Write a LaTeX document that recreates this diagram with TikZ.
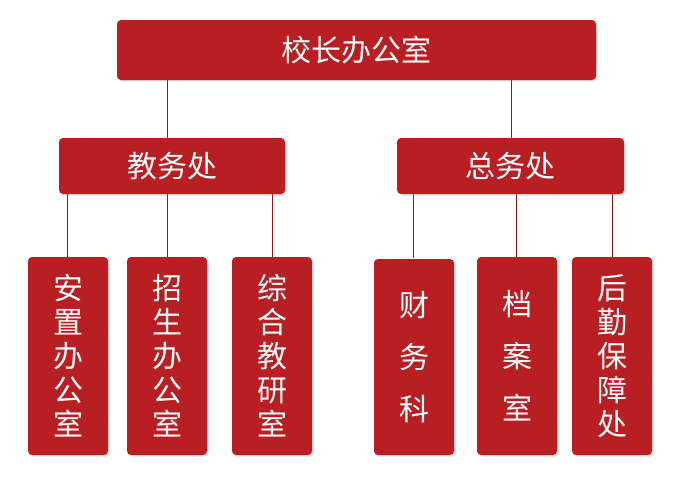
\documentclass[tikz,border=0pt]{standalone}
\usepackage{fontspec}
\setmainfont{Noto Sans CJK SC}
\usetikzlibrary{shadows}
\definecolor{boxred}{RGB}{185,30,34}
\tikzset{
  unit/.style={fill=boxred, rounded corners=4pt, text=white, drop shadow={opacity=0.25,shadow xshift=1.5pt,shadow yshift=-1.5pt}},
  link/.style={boxred!80!black, line width=0.6pt}
}
\newcommand{\orgbox}[6]{% name, x1, y1, x2, y2, text
  \path[unit] (#2,#3) rectangle (#4,#5);
  \node[text=white, align=center, inner sep=0pt, font=\fontsize{30}{34}\selectfont] (#1) at ({(#2+#4)/2},{(#3+#5)/2}) {#6};
  \coordinate (#1-top) at ({(#2+#4)/2},#3);
}
\begin{document}
\begin{tikzpicture}[x=1pt,y=-1pt]
\useasboundingbox (0,0) rectangle (700,490);
% connectors first
\draw[link] (167,80) -- (167,138);
\draw[link] (511,80) -- (511,138);
\foreach \x in {67,167,272} \draw[link] (\x,194) -- (\x,257);
\foreach \x in {413,516,612} \draw[link] (\x,194) -- (\x,258);
% boxes
\orgbox{head}{117}{20}{596}{80}{校长办公室}
\orgbox{jiaowu}{59}{138}{285}{194}{教务处}
\orgbox{zongwu}{397}{138}{624}{194}{总务处}
\orgbox{anzhi}{28}{257}{108}{455}{安\\置\\办\\公\\室}
\orgbox{zhaosheng}{127}{257}{207}{455}{招\\生\\办\\公\\室}
\orgbox{zonghe}{232}{257}{312}{455}{综\\合\\教\\研\\室}
\orgbox{caiwu}{374}{259}{454}{455}{财\\[18pt]务\\[18pt]科}
\orgbox{dangan}{477}{257}{557}{455}{档\\[18pt]案\\[18pt]室}
\orgbox{houqin}{572}{257}{652}{455}{后\\勤\\保\\障\\处}
\end{tikzpicture}
\end{document}
